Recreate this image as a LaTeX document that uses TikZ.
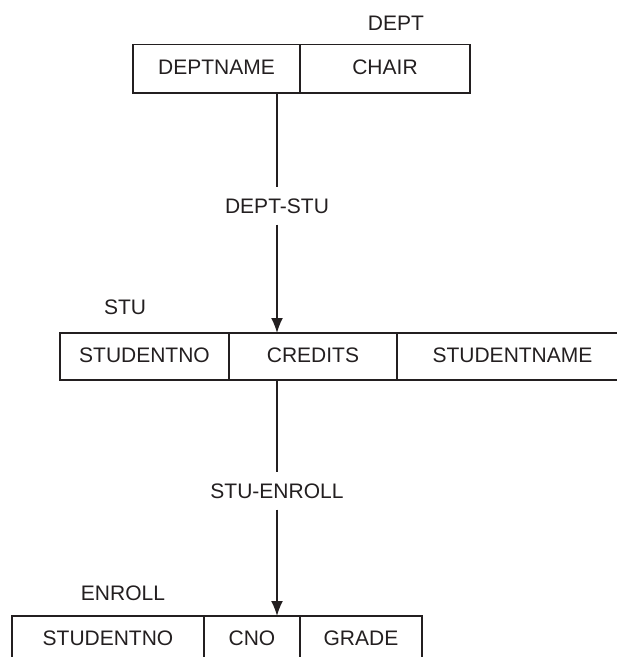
\documentclass[tikz,border=0pt]{standalone}
\usepackage{fontspec}
\setmainfont{Liberation Sans}
\usetikzlibrary{arrows.meta,positioning}
\definecolor{ink}{HTML}{231F20}
\tikzset{
  field/.style={draw=ink,line width=1.6pt,outer sep=0pt,inner sep=0pt,
    minimum height=47pt,text height=15pt,text depth=4pt,text=ink,
    font=\fontsize{21}{25}\selectfont},
  relname/.style={text=ink,inner sep=0pt,font=\fontsize{21}{25}\selectfont},
  linkname/.style={text=ink,inner sep=11pt,font=\fontsize{21}{25}\selectfont},
  link/.style={draw=ink,line width=1.6pt},
  arrow/.style={-{Latex[length=15pt,width=12pt]},draw=ink,line width=1.6pt}
}
\begin{document}
\begin{tikzpicture}[x=1pt,y=-1pt,node distance=0pt]
    \useasboundingbox (0,0) rectangle (617,657);
    \clip (0,0) rectangle (617,657);
    % DEPT
    \node[relname] (dept) at (396,23) {DEPT};
    \node[field,minimum width=167pt,minimum height=48.5pt,anchor=north west] (dn) at (133,44.5) {DEPTNAME};
    \node[field,minimum width=170pt,minimum height=48.5pt,right=of dn] (ch) {CHAIR};
    % STU
    \node[relname] (stu) at (125,307) {STU};
    \node[field,minimum width=169pt,anchor=north west] (sn) at (60,333) {STUDENTNO};
    \node[field,minimum width=168pt,right=of sn] (cr) {CREDITS};
    \node[field,minimum width=231pt,right=of cr] (sm) {STUDENTNAME};
    % ENROLL
    \node[relname] (enroll) at (123,593) {ENROLL};
    \node[field,minimum width=192pt,anchor=north west] (en) at (12,616) {STUDENTNO};
    \node[field,minimum width=96pt,right=of en] (cn) {CNO};
    \node[field,minimum width=122pt,right=of cn] (gr) {GRADE};
    % links
    \node[linkname] (ds) at (277,206) {DEPT-STU};
    \node[linkname] (se) at (277,491) {STU-ENROLL};
    \foreach \a/\m/\b in {dn/ds/cr,cr/se/cn}{
      \draw[link] (\m |- \a.south) -- (\m);
      \draw[arrow] (\m) -- (\m |- \b.north);
    }
  \end{tikzpicture}
\end{document}
